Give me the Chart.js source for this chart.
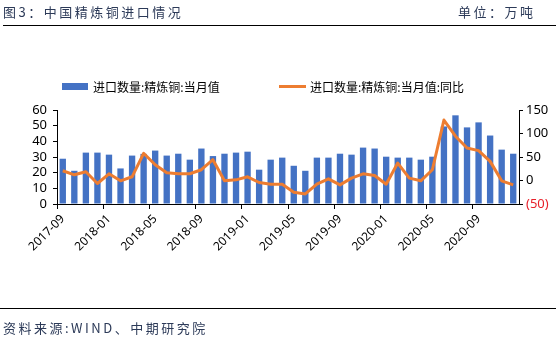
<!DOCTYPE html>
<html>
<head>
<meta charset="utf-8">
<script src="https://cdn.jsdelivr.net/npm/chart.js@4"></script>
<style>
  body { margin: 0; background: #fff; }
  #wrap { position: relative; width: 556px; height: 345px; overflow: hidden; }
  #grafico { position: absolute; left: 0; top: 0; }
  .txt { position: absolute; font-family: "Noto Sans CJK SC", sans-serif; font-size: 13px; color: #2c3a58; letter-spacing: 2.5px; white-space: nowrap; }
  .linha { position: absolute; left: 3px; right: 0; height: 1px; background: #000; }
</style>
</head>
<body>
<div id="wrap">
  <canvas id="grafico" width="556" height="345"></canvas>
  <div class="txt" style="left:3px; top:2px;">图3：中国精炼铜进口情况</div>
  <div class="txt" style="left:458px; top:2px;">单位：万吨</div>
  <div class="linha" style="top:25px;"></div>
  <div class="linha" style="top:308px; left:0;"></div>
  <div class="txt" style="left:3px; top:318px;">资料来源:WIND、中期研究院</div>
</div>
<script>
// meses: 2017-09 ate 2020-12
var meses = [];
for (var a = 2017; a <= 2020; a++) {
  for (var m = 1; m <= 12; m++) {
    if (a === 2017 && m < 9) continue;
    meses.push(a + '-' + (m < 10 ? '0' + m : m));
  }
}

// importacao mensal (万吨)
var importacao = [28.9, 21.2, 32.8, 32.8, 31.5, 22.7, 30.9, 32.0, 34.1, 30.9,
                  32.1, 28.3, 35.4, 30.6, 32.1, 32.8, 33.4, 21.9, 28.3, 29.6,
                  24.4, 21.2, 29.6, 29.6, 32.1, 31.5, 36.0, 35.4, 30.2, 29.6,
                  29.6, 28.3, 30.2, 49.5, 56.6, 48.9, 52.1, 43.7, 34.7, 32.1];

// variacao anual (%)
var variacao = [20.7, 12.1, 18.6, -6.4, 14.3, -0.7, 7.9, 57.9, 33.6, 16.4,
                14.3, 14.3, 22.9, 44.3, -0.7, 1.4, 7.9, -4.3, -7.9, -7.9,
                -25.0, -28.6, -7.9, 3.6, -9.3, 5.0, 14.3, 10.7, -7.9, 37.1,
                5.0, -0.7, 22.9, 128.6, 94.3, 69.3, 63.6, 40.7, -0.7, -9.3];

var nomeBarra = '进口数量:精炼铜:当月值';
var nomeLinha = '进口数量:精炼铜:当月值:同比';

var azul = '#4472C4';
var laranja = '#ED7D31';
var fonteEixo = { family: '"Noto Sans", "Liberation Sans", sans-serif', size: 13 };

// legenda desenhada na mao
var legenda = {
  id: 'legenda',
  afterDraw: function(chart) {
    var ctx = chart.ctx;
    ctx.save();
    ctx.font = '12px "Noto Sans CJK SC", sans-serif';
    ctx.textBaseline = 'middle';
    ctx.fillStyle = azul;
    ctx.fillRect(62, 83, 26, 7);
    ctx.fillStyle = '#000';
    ctx.fillText(chart.data.datasets[0].label, 93, 87);
    ctx.strokeStyle = laranja;
    ctx.lineWidth = 3;
    ctx.beginPath();
    ctx.moveTo(279, 86.5);
    ctx.lineTo(306, 86.5);
    ctx.stroke();
    ctx.fillText(chart.data.datasets[1].label, 310, 87);
    ctx.restore();
  }
};

new Chart(document.getElementById('grafico'), {
  data: {
    labels: meses,
    datasets: [{
      type: 'bar',
      label: nomeBarra,
      data: importacao,
      backgroundColor: azul,
      yAxisID: 'y',
      categoryPercentage: 1,
      barPercentage: 0.55,
      order: 2
    }, {
      type: 'line',
      label: nomeLinha,
      data: variacao,
      borderColor: laranja,
      backgroundColor: laranja,
      borderWidth: 3,
      borderJoinStyle: 'round',
      pointRadius: 0,
      tension: 0,
      yAxisID: 'y2',
      order: 1
    }]
  },
  options: {
    responsive: false,
    animation: false,
    layout: { padding: { top: 110, left: 0, right: 0, bottom: 0 } },
    plugins: { legend: { display: false }, tooltip: { enabled: false } },
    scales: {
      x: {
        offset: true,
        afterFit: function(s) { s.height = 141; },
        grid: {
          offset: true,
          drawOnChartArea: false,
          tickLength: 5,
          color: function(c) { return c.index % 4 === 0 ? '#000' : 'rgba(0,0,0,0)'; }
        },
        border: { color: '#000' },
        ticks: {
          autoSkip: false,
          maxRotation: 45,
          minRotation: 45,
          padding: 3,
          color: '#000',
          font: { family: '"Noto Sans", "Liberation Sans", sans-serif', size: 12 },
          callback: function(v, i) { return i % 4 === 0 ? meses[i] : ''; }
        }
      },
      y: {
        position: 'left',
        min: 0,
        max: 60,
        afterFit: function(s) { s.width = 57; },
        grid: { drawOnChartArea: false, tickLength: 4, color: '#000' },
        border: { color: '#000' },
        ticks: { stepSize: 10, autoSkip: false, padding: 6, color: '#000', font: fonteEixo }
      },
      y2: {
        position: 'right',
        min: -50,
        max: 150,
        afterFit: function(s) { s.width = 37; },
        grid: { drawOnChartArea: false, tickLength: 4, color: '#000' },
        border: { color: '#000' },
        ticks: {
          stepSize: 50,
          autoSkip: false,
          padding: 3,
          font: fonteEixo,
          color: function(c) { return c.tick.value < 0 ? '#e8202a' : '#000'; },
          callback: function(v) { return v < 0 ? '(' + (-v) + ')' : v; }
        }
      }
    }
  },
  plugins: [legenda]
});
</script>
</body>
</html>
